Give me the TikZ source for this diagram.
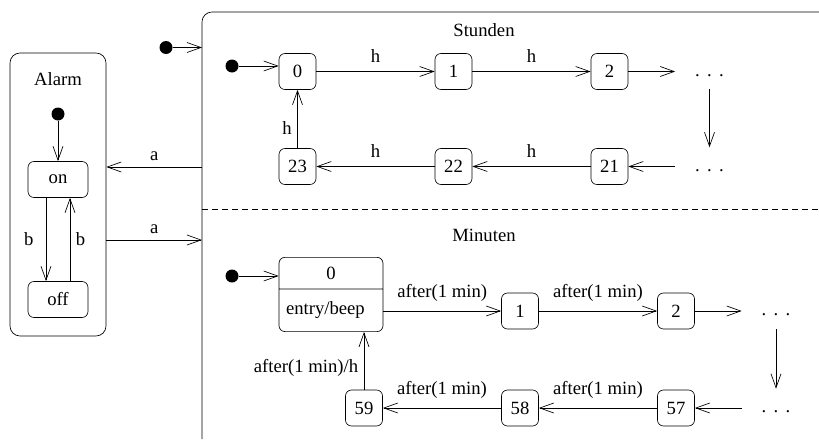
\documentclass[tikz,border=0pt]{standalone}
\usepackage{fontspec}
\setmainfont{Liberation Serif}
\usetikzlibrary{positioning, arrows.meta, shapes.multipart}
\tikzset{
	x=0.6pt, y=-0.6pt, % one unit is one pixel of the sketch
	node distance=93.6pt, % distance between two states of a row
	line width=0.7pt,
	>={Straight Barb[length=8.4pt, width=6pt]}, % open arrow heads
	st/.style={draw, rounded corners=3.6pt, minimum width=22.2pt, minimum height=21.6pt, inner sep=1pt}, % a simple state
	big/.style={draw, rounded corners=3.6pt, rectangle split, rectangle split parts=2, rectangle split part align={center,left}, minimum width=62.4pt, inner xsep=4.2pt, inner ysep=5.5pt}, % state with entry action
	box/.style={draw, rounded corners=6pt}, % composite states
	init/.style={circle, fill, inner sep=0pt, minimum size=7.8pt}, % initial pseudo state
	tr/.style={->},
	lbl/.style={above=2pt},
	dots/.style={inner sep=0pt, text height=5.5pt, text depth=0pt},
}
\newcommand{\dotsthree}{.\kern4.4pt.\kern4.4pt.}

\begin{document}
\begin{tikzpicture}[font=\fontsize{11.2}{13.4}\selectfont]
	\useasboundingbox (0,0) rectangle (819,439);
	
	% Alarm
	\node[box, minimum width=57.6pt, minimum height=169.8pt] (alarm) at (58,194.5) {};
	\node (alarmlbl) at (58,79) {Alarm};
	\node[init] (ai) at (58,114) {};
	\node[st, minimum width=36pt] (on) at (58,179.5) {on};
	\node[st, minimum width=36pt, below of=on, node distance=72pt] (off) {off};
	
	\draw[tr] (ai) -- (on);
	\draw[tr] ([xshift=-7.2pt]on.south) -- node[left=4pt]{b} ([xshift=-7.2pt]off.north);
	\draw[tr] ([xshift=7.2pt]off.north) -- node[right]{b} ([xshift=7.2pt]on.south);
	
	% Uhr
	\draw[box] (202,439) |- (819,12);
	\draw[dash pattern=on 3.6pt off 2.4pt] (202,209) -- (819,209);
	\node[init] (ui) at (166,47.5) {};
	\coordinate (uin) at (202,47.5);
	\coordinate (uout) at (202,167);
	\coordinate (uback) at (202,240);
	\draw[tr] (ui) -- (uin);
	\draw[tr] (uout) -- node[above]{a} (uout -| alarm.east);
	\draw[tr] (uback -| alarm.east) -- node[above]{a} (uback);
	
	% Stunden
	\node (stunden) at (484,30) {Stunden};
	\node[st] (h0) at (297.5,71.5) {0};
	\node[st, right of=h0] (h1) {1};
	\node[st, right of=h1] (h2) {2};
	\node[dots, right of=h2, node distance=60pt] (hd) {\dotsthree};
	\node[dots, below of=hd, node distance=57pt] (hdd) {\dotsthree};
	\node[st, below of=h2, node distance=57pt] (h21) {21};
	\node[st, left of=h21] (h22) {22};
	\node[st, left of=h22] (h23) {23};
	\node[init] (hi) at (232,66) {};
	
	\draw[tr] (hi) -- (hi -| h0.west);
	\draw[tr] (h0) -- node[lbl]{h} (h1);
	\draw[tr] (h1) -- node[lbl]{h} (h2);
	\draw[tr, shorten >=11.8pt] (h2) -- (hd);
	\draw[tr, shorten <=7.4pt, shorten >=8.6pt] (hd) -- (hdd);
	\draw[tr, shorten <=11.8pt] (hdd) -- (h21);
	\draw[tr] (h21) -- node[lbl]{h} (h22);
	\draw[tr] (h22) -- node[lbl]{h} (h23);
	\draw[tr] (h23) -- node[left, pos=0.35]{h} (h0);
	
	% Minuten
	\node (minuten) at (484,235) {Minuten};
	\node[big, anchor=north] (m0) at (331,257) {0 \nodepart{two} entry/beep\rule[-4.4pt]{0pt}{14.2pt}};
	\node[st] (m1) at (520,311) {1};
	\node[st, right of=m1] (m2) {2};
	\node[dots, right of=m2, node distance=60pt] (md) {\dotsthree};
	\node[dots, below of=md, node distance=58.2pt] (mdd) {\dotsthree};
	\node[st, below of=m2, node distance=58.2pt] (m57) {57};
	\node[st, left of=m57] (m58) {58};
	\node[st, left of=m58] (m59) {59};
	\node[init] (mi) at (232,276) {};
	
	\draw[tr] (mi) -- (mi -| m0.west);
	\draw[tr] (m1 -| m0.east) -- node[lbl]{after(1 min)} (m1);
	\draw[tr] (m1) -- node[lbl]{after(1 min)} (m2);
	\draw[tr, shorten >=11.8pt] (m2) -- (md);
	\draw[tr, shorten <=8pt, shorten >=8.6pt] (md) -- (mdd);
	\draw[tr, shorten <=11.8pt] (mdd) -- (m57);
	\draw[tr] (m57) -- node[lbl]{after(1 min)} (m58);
	\draw[tr] (m58) -- node[lbl]{after(1 min)} (m59);
	\draw[tr] (m59) -- node[left, pos=0.38]{after(1 min)/h} (m59 |- m0.south);
	
\end{tikzpicture}
\end{document}
